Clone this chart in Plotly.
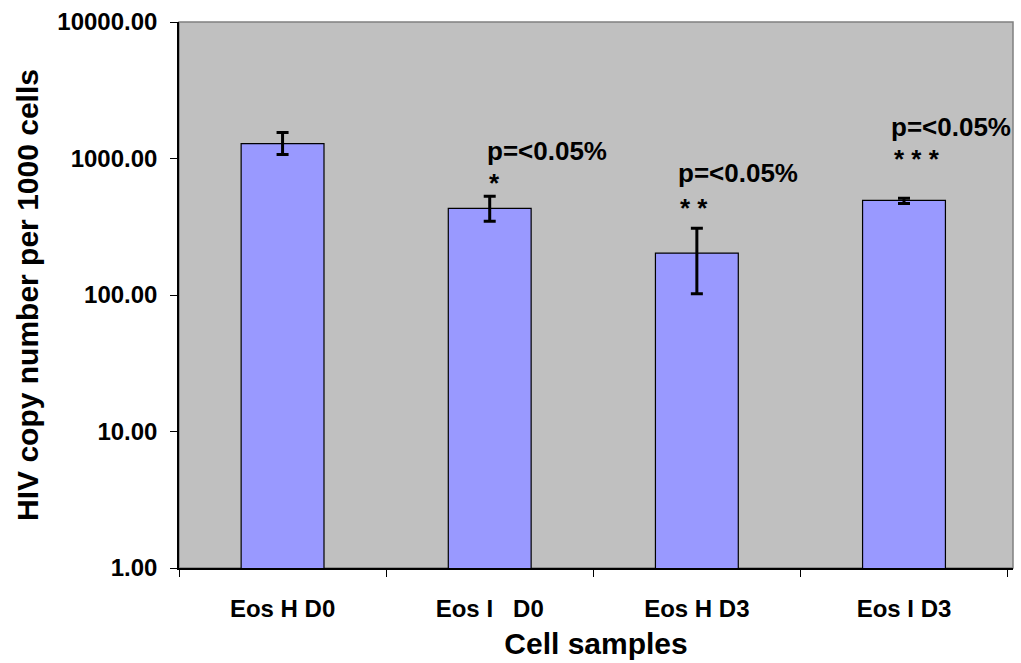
import plotly.graph_objects as go

categories = ["Eos H D0", "Eos I\u00a0\u00a0\u00a0D0", "Eos H D3", "Eos I D3"]
values = [1286, 431, 203, 494]
err_plus = [263, 97, 105, 17]
err_minus = [217, 84, 101, 25]
tick_vals = [1, 10, 100, 1000, 10000]
tick_text = ["1.00", "10.00", "100.00", "1000.00", "10000.00"]
sig_labels = ["", "*", "*\u00a0*", "*\u00a0*\u00a0*"]
p_label = "p=<0.05%"

font_family = "Arial, Liberation Sans, sans-serif"

fig = go.Figure()
fig.add_trace(go.Bar(
    x=categories, y=values,
    marker=dict(color="#9999FF", line=dict(color="black", width=1.2)),
    width=0.4,
    error_y=dict(type="data", symmetric=False, array=err_plus, arrayminus=err_minus,
                 color="black", thickness=3, width=6),
))

# significance annotations
p_y = [None, 0.764, 0.723, 0.808]
star_y = [None, 0.705, 0.660, 0.749]
p_shift = [0, -5, -21, -15]
star_shift = [0, -3, -19, -12]
for i in range(1, 4):
    fig.add_annotation(x=categories[i], y=p_y[i], xref="x", yref="paper",
                       text=p_label, showarrow=False, xanchor="left", yanchor="middle",
                       xshift=p_shift[i],
                       font=dict(family=font_family, size=26, color="black", weight="bold"))
    fig.add_annotation(x=categories[i], y=star_y[i], xref="x", yref="paper",
                       text=sig_labels[i], showarrow=False, xanchor="left", yanchor="middle",
                       xshift=star_shift[i],
                       font=dict(family=font_family, size=26, color="black", weight="bold"))

fig.add_shape(type="rect", xref="paper", yref="paper", x0=0, x1=1, y0=0, y1=1,
              line=dict(color="#808080", width=1.5), layer="below")

fig.update_layout(
    width=1021, height=663,
    margin=dict(l=179, r=8, t=20, b=95),
    paper_bgcolor="white", plot_bgcolor="#C0C0C0",
    showlegend=False,
    font=dict(family=font_family, color="black"),
    xaxis=dict(
        showline=True, linecolor="black", linewidth=1.5,
        ticks="outside", tickson="boundaries", ticklen=7, tickcolor="black",
        tickfont=dict(size=24, weight="bold"), ticklabelstandoff=18,
        title=dict(text="Cell samples", font=dict(size=30, weight="bold"), standoff=12),
        showgrid=False,
    ),
    yaxis=dict(
        type="log", range=[0, 4],
        tickvals=tick_vals, ticktext=tick_text,
        showline=True, linecolor="black", linewidth=1.5,
        ticks="outside", ticklen=7, tickcolor="black",
        tickfont=dict(size=24, weight="bold"), ticklabelstandoff=8,
        title=dict(text="HIV copy number per 1000 cells", font=dict(size=30, weight="bold"), standoff=10),
        showgrid=False,
    ),
)

fig.write_html("out.html", config={"displayModeBar": False},
               post_script="document.body.style.margin='0';document.body.style.overflow='hidden';")
